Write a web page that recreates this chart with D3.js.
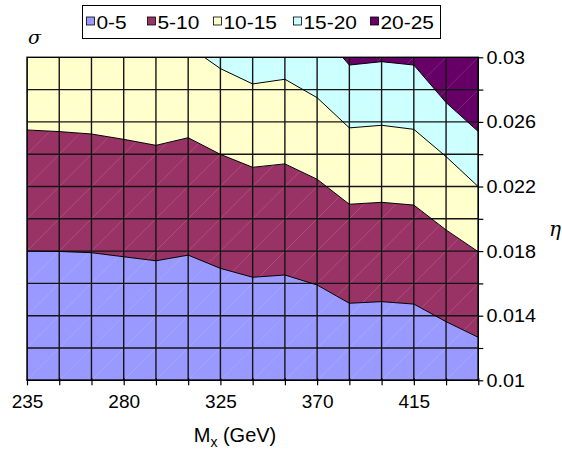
<!DOCTYPE html>
<html>
<head>
<meta charset="utf-8">
<script src="https://cdn.jsdelivr.net/npm/d3@7"></script>
<style>
  body { margin: 0; background: #fff; }
  text { font-family: 'Liberation Sans', Arial, sans-serif; fill: #000; }
</style>
</head>
<body>
<svg id="chart" width="562" height="449"></svg>
<script>
// contour chart of sigma over (Mx, eta)

// declarations and data
let masses = [235, 250, 265, 280, 295, 310, 325, 340, 355, 370, 385, 400, 415, 430, 445]
let massLabels = [235, 280, 325, 370, 415]
let etaTicks = [0.01, 0.014, 0.018, 0.022, 0.026, 0.03]
let etaGrid = [0.01, 0.012, 0.014, 0.016, 0.018, 0.02, 0.022, 0.024, 0.026, 0.028, 0.03]
let levels = ['0-5', '5-10', '10-15', '15-20', '20-25']
let colors = ['#9999ff', '#993366', '#ffffcc', '#ccffff', '#660066']

// eta where sigma crosses 5, 10, 15, 20 at each mass (values above 0.03 are off the top)
let cross5 = [0.0180, 0.01798, 0.0179, 0.01765, 0.0174, 0.01775, 0.01693, 0.01638, 0.01652, 0.0159, 0.01477, 0.01487, 0.01472, 0.01363, 0.01266]
let cross10 = [0.0255, 0.0254, 0.02525, 0.02492, 0.02455, 0.02502, 0.02399, 0.02319, 0.0234, 0.02245, 0.0209, 0.02102, 0.02085, 0.01931, 0.01796]
let cross15 = [0.034, 0.0337, 0.0334, 0.033, 0.0318, 0.0307, 0.0293, 0.02835, 0.02864, 0.0275, 0.02563, 0.02579, 0.02554, 0.02385, 0.02199]
let cross20 = [0.038, 0.0378, 0.0375, 0.0372, 0.037, 0.0365, 0.036, 0.0345, 0.033, 0.0318, 0.02952, 0.02973, 0.02952, 0.0272, 0.0254]
let floorEta = masses.map(() => 0.01)
let roofEta = masses.map(() => 0.04)

let margin = { left: 27, top: 57.3, right: 478.3, bottom: 380.3 }
let font = "'Liberation Sans', Arial, sans-serif"

let x = d3.scaleLinear().domain([235, 445]).range([margin.left, margin.right])
let y = d3.scaleLinear().domain([0.01, 0.03]).range([margin.bottom, margin.top])

let svg = d3.select('#chart')

svg.append('clipPath')
  .attr('id', 'plot-clip')
  .append('rect')
  .attr('x', margin.left)
  .attr('y', margin.top)
  .attr('width', margin.right - margin.left)
  .attr('height', margin.bottom - margin.top)

let plot = svg.append('g').attr('clip-path', 'url(#plot-clip)')

// bands between consecutive crossings
let bounds = [floorEta, cross5, cross10, cross15, cross20, roofEta]
let bands = levels.map((name, i) => ({ name: name, color: colors[i], lo: bounds[i], hi: bounds[i + 1] }))

let area = d3.area()
  .x(d => x(d.m))
  .y0(d => y(d.lo))
  .y1(d => y(d.hi))

plot.selectAll('path.band')
  .data(bands)
  .join('path')
  .attr('class', 'band')
  .attr('fill', d => d.color)
  .attr('d', d => area(masses.map((m, j) => ({ m: m, lo: d.lo[j], hi: d.hi[j] }))))

// faint triangle seams in each cell (rendering artefact of the original)
let cells = []
masses.slice(0, -1).forEach((m, i) => {
  etaGrid.slice(0, -1).forEach((e, j) => cells.push({ m0: m, m1: masses[i + 1], e0: e, e1: etaGrid[j + 1] }))
})
plot.selectAll('line.seam')
  .data(cells)
  .join('line')
  .attr('class', 'seam')
  .attr('x1', d => x(d.m0)).attr('y1', d => y(d.e0))
  .attr('x2', d => x(d.m1)).attr('y2', d => y(d.e1))
  .attr('stroke', '#fff')
  .attr('stroke-opacity', 0.18)
  .attr('stroke-width', 0.8)

// grid
plot.selectAll('line.vgrid')
  .data(masses)
  .join('line')
  .attr('class', 'vgrid')
  .attr('x1', d => x(d)).attr('x2', d => x(d))
  .attr('y1', margin.top).attr('y2', margin.bottom)
  .attr('stroke', '#151515')
  .attr('stroke-width', 1.4)

plot.selectAll('line.hgrid')
  .data(etaGrid)
  .join('line')
  .attr('class', 'hgrid')
  .attr('x1', margin.left).attr('x2', margin.right)
  .attr('y1', d => y(d)).attr('y2', d => y(d))
  .attr('stroke', '#151515')
  .attr('stroke-width', 1.4)

// contour lines
let line = d3.line().x((d, j) => x(masses[j])).y(d => y(d))

plot.selectAll('path.contour')
  .data([cross5, cross10, cross15, cross20])
  .join('path')
  .attr('class', 'contour')
  .attr('fill', 'none')
  .attr('stroke', '#000')
  .attr('stroke-width', 1)
  .attr('d', d => line(d))

// frame
svg.append('rect')
  .attr('x', margin.left)
  .attr('y', margin.top)
  .attr('width', margin.right - margin.left)
  .attr('height', margin.bottom - margin.top)
  .attr('fill', 'none')
  .attr('stroke', '#000')
  .attr('stroke-width', 1.4)

// bottom axis
let xAxis = d3.axisBottom(x)
  .tickValues(masses)
  .tickSizeInner(5)
  .tickSizeOuter(0)
  .tickFormat(d => (massLabels.includes(d) ? d : ''))

let gx = svg.append('g')
  .attr('transform', `translate(0,${margin.bottom - 2})`)
  .call(xAxis)
gx.select('.domain').remove()
gx.selectAll('line').attr('stroke', '#000').attr('stroke-width', 1.2).attr('y2', 7)
gx.selectAll('text')
  .attr('y', 16.5)
  .style('font-size', '19px')
  .style('font-family', font)

// right axis
let yAxis = d3.axisRight(y)
  .tickValues(etaGrid)
  .tickSizeInner(5)
  .tickSizeOuter(0)
  .tickFormat(d => (etaTicks.some(t => Math.abs(t - d) < 1e-9) ? d3.format('')(+d.toFixed(3)) : ''))

let gy = svg.append('g')
  .attr('transform', `translate(${margin.right},0)`)
  .call(yAxis)
gy.select('.domain').remove()
gy.selectAll('line').attr('stroke', '#000').attr('stroke-width', 1.2)
gy.selectAll('text')
  .attr('x', 8)
  .style('font-size', '19px')
  .style('font-family', font)
  .attr('transform', 'scale(1.04,1)')

// axis titles
let title = svg.append('text')
  .attr('x', 235)
  .attr('y', 442)
  .attr('text-anchor', 'middle')
  .style('font-size', '20px')
title.append('tspan').text('M')
title.append('tspan').attr('dy', 5).style('font-size', '14px').text('x')
title.append('tspan').attr('dy', -5).text(' (GeV)')

svg.append('text')
  .attr('x', 549)
  .attr('y', 236)
  .style('font-size', '20px')
  .style('font-style', 'italic')
  .style('font-family', "'DejaVu Serif', serif")
  .text('η')

svg.append('text')
  .attr('x', 28)
  .attr('y', 44)
  .style('font-size', '19px')
  .style('font-style', 'italic')
  .style('font-family', "'DejaVu Serif', serif")
  .text('σ')

// legend
let legend = svg.append('g')
legend.append('rect')
  .attr('x', 82.5).attr('y', 5.5)
  .attr('width', 358).attr('height', 33)
  .attr('fill', '#fff')
  .attr('stroke', '#000')
  .attr('stroke-width', 1)

let legendX = [86, 147, 213, 293, 370]
let item = legend.selectAll('g.item')
  .data(levels)
  .join('g')
  .attr('class', 'item')
  .attr('transform', (d, i) => `translate(${legendX[i]},0)`)
item.append('rect')
  .attr('x', 0.5).attr('y', 17)
  .attr('width', 8).attr('height', 8)
  .attr('fill', (d, i) => colors[i])
  .attr('stroke', '#000')
  .attr('stroke-width', 0.8)
item.append('text')
  .attr('transform', 'translate(10.5,28.5) scale(1.1,1)')
  .style('font-size', '19px')
  .text(d => d)
</script>
</body>
</html>
